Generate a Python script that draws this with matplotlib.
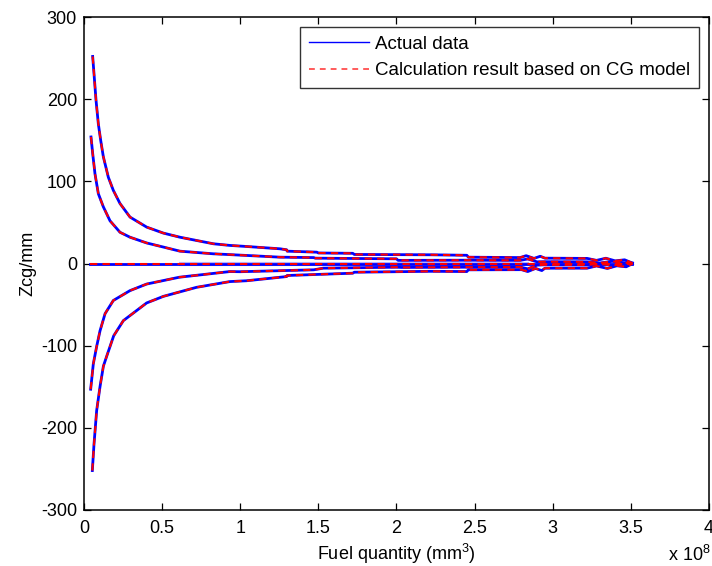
import matplotlib
matplotlib.use("Agg")
import matplotlib.pyplot as plt
from matplotlib.lines import Line2D

plt.rcParams['font.family'] = ['Liberation Sans', 'DejaVu Sans']
plt.rcParams['mathtext.default'] = 'regular'
plt.rcParams['axes.unicode_minus'] = False

# fuel quantity in units of 1e8 mm^3, Zcg in mm
x_outer_top = [0.0555, 0.064, 0.0768, 0.0917, 0.1067, 0.1237, 0.1557, 0.1877, 0.2304, 0.2944,
               0.401, 0.508, 0.614, 0.828, 0.934, 1.041, 1.254, 1.297, 1.30, 1.49,
               1.50, 1.72, 1.73, 2.22, 2.45, 2.46, 2.79, 2.83, 2.88, 2.92,
               2.95, 3.22, 3.28, 3.34, 3.40, 3.46, 3.51]
y_outer_top = [252, 231, 199, 170, 150, 130, 105, 89, 73, 56.5,
               44.3, 37, 32, 24, 22, 20.7, 17.9, 16.7, 15, 13.8,
               12.8, 12.4, 11, 10.6, 10, 7.7, 7.2, 9.5, 6.2, 8.8,
               6.5, 6.2, 3.8, 6.4, 3.2, 4.5, 0.5]

x_inner_top = [0.0448, 0.0555, 0.0704, 0.0917, 0.1237, 0.1664, 0.2304, 0.2944, 0.401, 0.508,
               0.614, 0.828, 1.041, 1.254, 1.47, 1.48, 2.0, 2.01, 2.45, 2.79,
               2.84, 2.9, 2.95, 3.22, 3.30, 3.38, 3.45, 3.51]
y_inner_top = [154, 134, 109, 85, 69, 52, 38, 32, 25, 20,
               15, 11.8, 9.8, 7.7, 7.2, 6.5, 5.7, 3.8, 4.0, 3.8,
               5.5, 2.0, 2.2, 2.0, 0.6, 2.6, 1.0, 0.5]

x_zero = [0.04, 3.51]
y_zero = [0, 0]

x_faint = [0.61, 2.85]
y_faint = [-1.2, -1.2]

x_inner_bot = [0.0427, 0.0597, 0.081, 0.1024, 0.135, 0.1877, 0.2944, 0.401, 0.61, 0.934,
               1.0, 1.47, 1.53, 2.0, 2.03, 2.45, 2.79, 2.84, 2.9, 2.95,
               3.22, 3.30, 3.38, 3.45, 3.51]
y_inner_bot = [-153, -122, -101, -82, -61, -45, -33, -25, -16.7, -9.8,
               -10, -7.7, -5.7, -4.5, -4.8, -4.5, -4.3, -6.5, -2.0, -1.6,
               -1.8, -0.3, -2.4, -0.8, -0.3]

x_outer_bot = [0.0533, 0.064, 0.081, 0.1024, 0.124, 0.145, 0.19, 0.252, 0.401, 0.508,
               0.72, 0.934, 1.04, 1.297, 1.30, 1.72, 1.73, 2.22, 2.45, 2.46,
               2.80, 2.84, 2.89, 2.93, 2.95, 3.22, 3.28, 3.35, 3.41, 3.47,
               3.51]
y_outer_bot = [-252, -220, -179, -150, -125, -113, -88, -69.5, -48, -40,
               -29, -22, -21, -15.9, -14.6, -11.8, -10.6, -9.5, -9.8, -7.7,
               -7.5, -9.8, -6.0, -8.6, -5.7, -5.7, -3.0, -6.0, -2.8, -4.0,
               -0.3]

actual = [(x_outer_top, y_outer_top), (x_inner_top, y_inner_top), (x_zero, y_zero),
          (x_inner_bot, y_inner_bot), (x_outer_bot, y_outer_bot)]

x_ticks = [0, 0.5, 1, 1.5, 2, 2.5, 3, 3.5, 4]
y_ticks = [-300, -200, -100, 0, 100, 200, 300]

fig = plt.figure(figsize=(7.12, 5.66), dpi=100)
ax = fig.add_axes([84 / 712, 1 - 510 / 566, 625 / 712, 493 / 566])

# actual data (blue) then model result (red dashed) on top
ax.plot(x_faint, y_faint, color='blue', lw=3, alpha=0.3, solid_capstyle='butt')
for xs, ys in actual:
    ax.plot(xs, ys, color='blue', lw=2.0)
for xs, ys in actual:
    ax.plot(xs, ys, color='red', lw=1.5, linestyle=(0, (3.5, 2.5)))

ax.set_xlim(0, 4)
ax.set_ylim(-300, 300)
ax.set_xticks(x_ticks)
ax.set_xticklabels([f'{t:g}' for t in x_ticks])
ax.set_yticks(y_ticks)
ax.tick_params(direction='in', top=True, right=True, length=5, width=0.9,
               labelsize=13)
ax.tick_params(axis='y', pad=5)
ax.tick_params(axis='x', pad=7)
for s in ax.spines.values():
    s.set_linewidth(1.1)

ax.set_xlabel('Fuel quantity (mm$^3$)', fontsize=13, labelpad=4)
ax.set_ylabel('Zcg/mm', fontsize=13, labelpad=3)
fig.text(668 / 712, 1 - 555 / 566, 'x 10$^8$', fontsize=13, va='center', ha='left')

handles = [Line2D([], [], color='blue', lw=1),
           Line2D([], [], color='#ff4040', lw=1.2, linestyle=(0, (3.5, 3)))]
leg = ax.legend(handles, ['Actual data', 'Calculation result based on CG model'],
                loc='upper right', fontsize=13.5, frameon=True, fancybox=False,
                edgecolor='black', handlelength=3.2, borderaxespad=0.55,
                labelspacing=0.5, handletextpad=0.35, borderpad=0.45)
leg.get_frame().set_linewidth(1.0)

fig.savefig('out.png', dpi=100)
